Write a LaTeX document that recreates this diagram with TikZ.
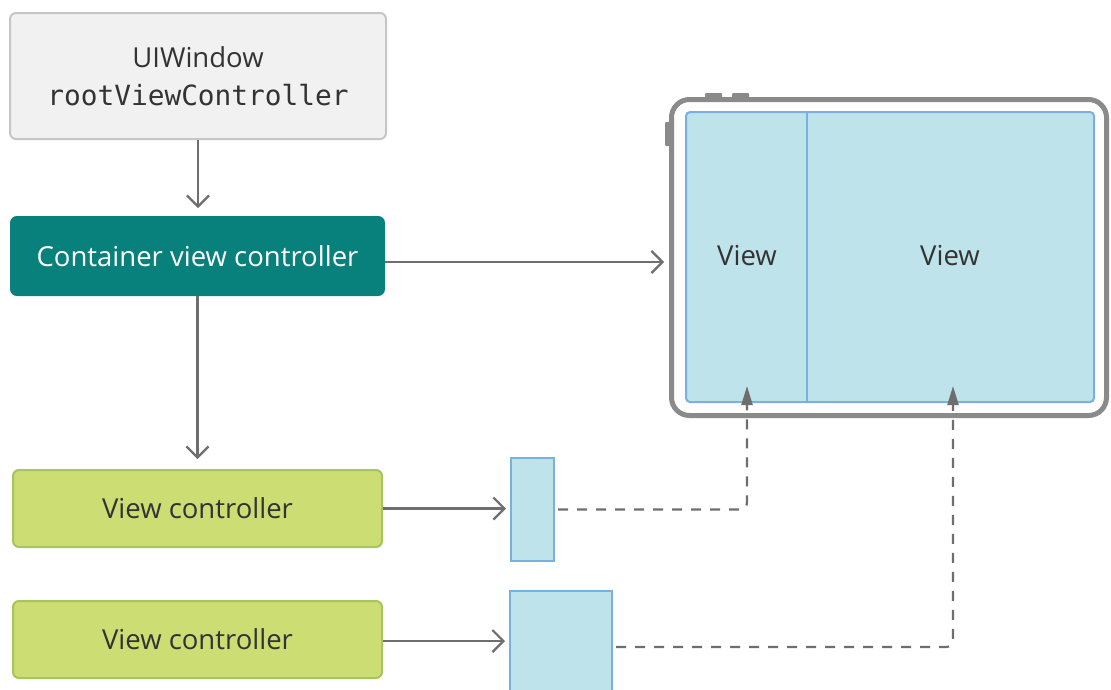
\documentclass[tikz,border=0pt]{standalone}
\usepackage{fontspec}
\setmainfont{Open Sans}
\setmonofont{DejaVu Sans Mono}
\usetikzlibrary{arrows.meta}
\definecolor{winfill}{HTML}{F1F1F1}
\definecolor{winline}{HTML}{C6C6C6}
\definecolor{teal}{HTML}{08817C}
\definecolor{vcfill}{HTML}{CBDD73}
\definecolor{vcline}{HTML}{A6C55C}
\definecolor{viewfill}{HTML}{BEE3EA}
\definecolor{viewline}{HTML}{78B0E0}
\definecolor{frame}{HTML}{8A8A8A}
\definecolor{conn}{HTML}{6E6E6E}
\definecolor{txt}{HTML}{333333}
\tikzset{
  box/.style={rounded corners=6pt, line width=2pt, inner sep=0pt, align=center,
    font=\fontsize{27.5}{38}\selectfont, text=txt},
  winbox/.style={box, fill=winfill, draw=winline, minimum width=376pt, minimum height=126pt},
  contbox/.style={box, fill=teal, draw=teal, text=white, minimum width=373pt, minimum height=78pt},
  vcbox/.style={box, fill=vcfill, draw=vcline, minimum width=369pt, minimum height=77pt},
  viewbox/.style={fill=viewfill, draw=viewline, line width=2pt, inner sep=0pt},
  viewlabel/.style={font=\fontsize{27.5}{30}\selectfont, text=txt},
  link/.style={draw=conn, line width=2.2pt, -{Straight Barb[length=11pt,width=22pt,line width=2.2pt]}},
  dashlink/.style={draw=conn, line width=2.2pt, dash pattern=on 10pt off 9pt, rounded corners=7pt,
    -{Triangle[length=19pt,width=11pt]}},
}
\begin{document}
\begin{tikzpicture}[x=1pt,y=-1pt]
\useasboundingbox (0,0) rectangle (1111,689);

% controllers
\node[winbox]  (win)  at (198,76)    {UIWindow\\\texttt{\fontsize{27.8}{38}\selectfont rootViewController}};
\node[contbox] (cont) at (197.5,256) {Container view controller};
\node[vcbox]   (vc1)  at (197.5,508.5) {View controller};
\node[vcbox]   (vc2)  at (197.5,639.5) {View controller};

% child views
\node[viewbox, minimum width=43pt, minimum height=103pt]  (v1) at (532.5,509.5) {};
\node[viewbox, minimum width=102pt, minimum height=112pt] (v2) at (561,647) {};

% device with its buttons
\fill[frame, rounded corners=1pt] (705,93) rectangle (722,99);
\fill[frame, rounded corners=1pt] (732,93) rectangle (749,99);
\fill[frame, rounded corners=1pt] (665,122) rectangle (671,146);
\node[draw=frame, line width=5pt, rounded corners=18pt, fill=white, inner sep=0pt,
      minimum width=435pt, minimum height=316pt] (device) at (889,257.5) {};
\filldraw[viewbox, rounded corners=4pt] (686,112) rectangle (1094,402);
\node[inner sep=0pt, minimum width=121pt, minimum height=290pt] (lview) at (746.5,257) {};
\node[inner sep=0pt, minimum width=287pt, minimum height=290pt] (rview) at (950.5,257) {};
\draw[viewline, line width=2pt] (lview.north east) -- (lview.south east);
\node[viewlabel] at (747,256) {View};
\node[viewlabel] at (950,256) {View};

% ownership arrows
\draw[link] (win.south) -- ++(0,68);
\draw[link, shorten >=5pt] (cont.east |- 0,262) -- (device.west |- 0,262);
\draw[link] (cont.south) -- ++(0,163);
\draw[link] (vc1.east) -- ([xshift=-4pt]v1.west |- vc1.east);
\draw[link] (vc2.east |- 0,641) -- ([xshift=-4pt]v2.west |- 0,641);

% views placed in the window
\coordinate (lt) at (747,386);
\coordinate (rt) at (953,386);
\draw[dashlink] ([xshift=3pt]v1.east) -- (lt |- v1.east) -- (lt);
\draw[dashlink] ([xshift=3pt]v2.east |- 0,647) -- (rt |- 0,647) -- (rt);
\end{tikzpicture}
\end{document}
